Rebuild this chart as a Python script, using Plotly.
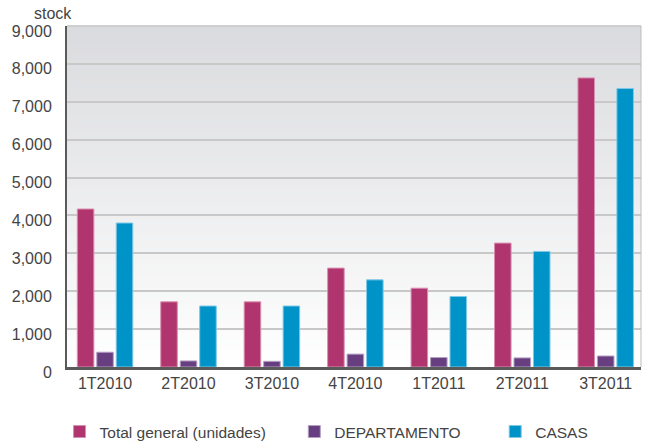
import plotly.graph_objects as go

# Quarterly housing stock (units)
quarters = ["1T2010", "2T2010", "3T2010", "4T2010", "1T2011", "2T2011", "3T2011"]
total_general = [4170, 1720, 1720, 2610, 2080, 3270, 7630]
departamento = [390, 160, 150, 340, 250, 240, 290]
casas = [3800, 1610, 1610, 2300, 1860, 3050, 7350]

series = [
    ("Total general (unidades)", total_general, "#B0356E", "#D98FB0", "legend"),
    ("DEPARTAMENTO", departamento, "#673F80", "#B4A0C4", "legend2"),
    ("CASAS", casas, "#0093C8", "#7FC8E6", "legend3"),
]

fig = go.Figure()
for name, vals, color, edge, lg in series:
    fig.add_trace(go.Bar(
        x=quarters, y=vals, name=name, showlegend=True,
        marker=dict(color=color, line=dict(color=edge, width=1)),
        legend=lg,
    ))

# Vertical grey-to-white background gradient behind the plot area
shapes = []
n_bands = 60
top_rgb = (218, 219, 222)
bot_rgb = (255, 255, 255)
for i in range(n_bands):
    t = i / (n_bands - 1)
    r = round(bot_rgb[0] + (top_rgb[0] - bot_rgb[0]) * t)
    g = round(bot_rgb[1] + (top_rgb[1] - bot_rgb[1]) * t)
    b = round(bot_rgb[2] + (top_rgb[2] - bot_rgb[2]) * t)
    shapes.append(dict(
        type="rect", xref="x domain", yref="y domain",
        x0=0, x1=1, y0=i / n_bands, y1=(i + 1) / n_bands + 0.002,
        fillcolor=f"rgb({r},{g},{b})", line=dict(width=0), layer="below",
    ))
# thin frame on top and right
shapes.append(dict(type="line", xref="x domain", yref="y domain",
                   x0=0, x1=1, y0=1, y1=1, line=dict(color="#BDBDBD", width=1)))
shapes.append(dict(type="line", xref="x domain", yref="y domain",
                   x0=1, x1=1, y0=0, y1=1, line=dict(color="#BDBDBD", width=1)))

font_family = "Liberation Sans, Arial, sans-serif"
legend_common = dict(orientation="h", xref="paper", yref="container",
                     yanchor="middle", y=0.025, bgcolor="rgba(0,0,0,0)",
                     font=dict(family=font_family, size=15.5, color="#444444"),
                     itemwidth=30, tracegroupgap=0, visible=True)

fig.update_layout(
    width=646, height=443,
    margin=dict(l=67, r=5, t=26, b=76),
    paper_bgcolor="white",
    plot_bgcolor="rgba(0,0,0,0)",
    showlegend=True,
    barmode="group",
    bargap=0.30,
    bargroupgap=0.15,
    shapes=shapes,
    font=dict(family=font_family, size=16, color="#444444"),
    xaxis=dict(
        type="category", range=[-0.456, 6.423],
        showline=True, linecolor="#5A5A5A", linewidth=3,
        ticks="", showgrid=False,
        tickfont=dict(family=font_family, size=16, color="#444444"),
    ),
    yaxis=dict(
        range=[0, 9000], dtick=1000, tickformat=",d",
        showline=True, linecolor="#5A5A5A", linewidth=2,
        showgrid=True, gridcolor="#C8C8C8", gridwidth=1.5,
        zeroline=False, ticks="", ticklabelstandoff=10, ticklabelshift=5,
        tickfont=dict(family=font_family, size=16, color="#444444"),
    ),
    legend=dict(**legend_common, x=-0.013, xanchor="left"),
    legend2=dict(**legend_common, x=0.396, xanchor="left"),
    legend3=dict(**legend_common, x=0.746, xanchor="left"),
    annotations=[dict(
        text="stock", xref="paper", yref="paper",
        x=-0.024, y=1.0, xanchor="center", yanchor="bottom", yshift=2,
        showarrow=False, font=dict(family=font_family, size=16, color="#444444"),
    )],
)

fig.write_html("out.html")
